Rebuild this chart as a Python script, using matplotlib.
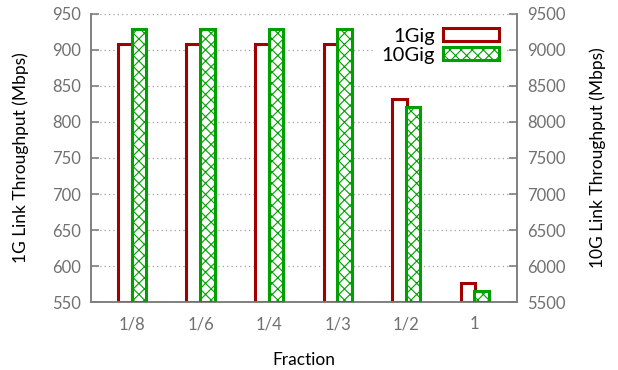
import matplotlib
matplotlib.use("Agg")
import matplotlib.pyplot as plt
import numpy as np

categories = ["1/8", "1/6", "1/4", "1/3", "1/2", "1"]
gig1 = [908, 908, 908, 908, 832, 577]
gig10 = [9285, 9285, 9285, 9285, 8212, 5650]
left_ticks = [550, 600, 650, 700, 750, 800, 850, 900, 950]
right_ticks = [5500, 6000, 6500, 7000, 7500, 8000, 8500, 9000, 9500]

plt.rcParams['font.family'] = ['Lato', 'DejaVu Sans']
plt.rcParams['hatch.linewidth'] = 0.8

RED = '#a00000'
GREEN = '#00a000'
GREY = '#808080'

fig = plt.figure(figsize=(6.18, 3.70), dpi=100)
ax1 = fig.add_subplot(111)
fig.subplots_adjust(left=0.147, right=0.837, top=0.963, bottom=0.183)
ax2 = ax1.twinx()

x = np.arange(len(categories))
w = 0.21
off = 0.1

b1 = ax1.bar(x - off, [v - 550 for v in gig1], bottom=550, width=w,
             facecolor='white', edgecolor=RED, linewidth=2.2, label='1Gig', zorder=3)
b2 = ax2.bar(x + off, [v - 5500 for v in gig10], bottom=5500, width=w,
             facecolor='white', edgecolor=GREEN, linewidth=2.2, hatch='xxx',
             label='10Gig', zorder=3)

ax1.set_xlim(-0.6, 5.62)
ax1.set_ylim(550, 950)
ax2.set_ylim(5500, 9500)
ax1.set_yticks(left_ticks)
ax2.set_yticks(right_ticks)
ax1.set_xticks(x)
ax1.set_xticklabels(categories)

ax1.yaxis.grid(True, linestyle=(0, (1, 2.5)), color='#a0a0a0', linewidth=0.9)
ax1.set_axisbelow(True)

for ax in (ax1, ax2):
    ax.spines['top'].set_visible(False)
    for s in ('left', 'right', 'bottom'):
        ax.spines[s].set_color(GREY)
        ax.spines[s].set_linewidth(1.2)
    ax.tick_params(axis='y', direction='in', length=6, width=1.2, color=GREY,
                   labelcolor='#707070', labelsize=12, pad=7)
    ax.tick_params(axis='x', length=0, labelcolor='#707070', labelsize=12, pad=10)

ax1.set_ylabel('1G Link Throughput (Mbps)', fontsize=12.5, labelpad=17)
ax2.set_ylabel('10G Link Throughput (Mbps)', fontsize=12.5, labelpad=17)
ax1.set_xlabel('Fraction', fontsize=12.5, labelpad=14)

leg = ax2.legend(handles=[b1, b2], loc='upper right', bbox_to_anchor=(0.972, 0.972),
                 markerfirst=False, frameon=True, fontsize=14.5, handlelength=2.8,
                 handleheight=0.6, handletextpad=0.4, labelspacing=0.1,
                 borderpad=0.3, borderaxespad=0.0)
leg.get_frame().set_facecolor('white')
leg.get_frame().set_edgecolor('none')
leg.get_frame().set_alpha(1.0)
leg.set_zorder(10)

fig.savefig('out.png', dpi=100)
